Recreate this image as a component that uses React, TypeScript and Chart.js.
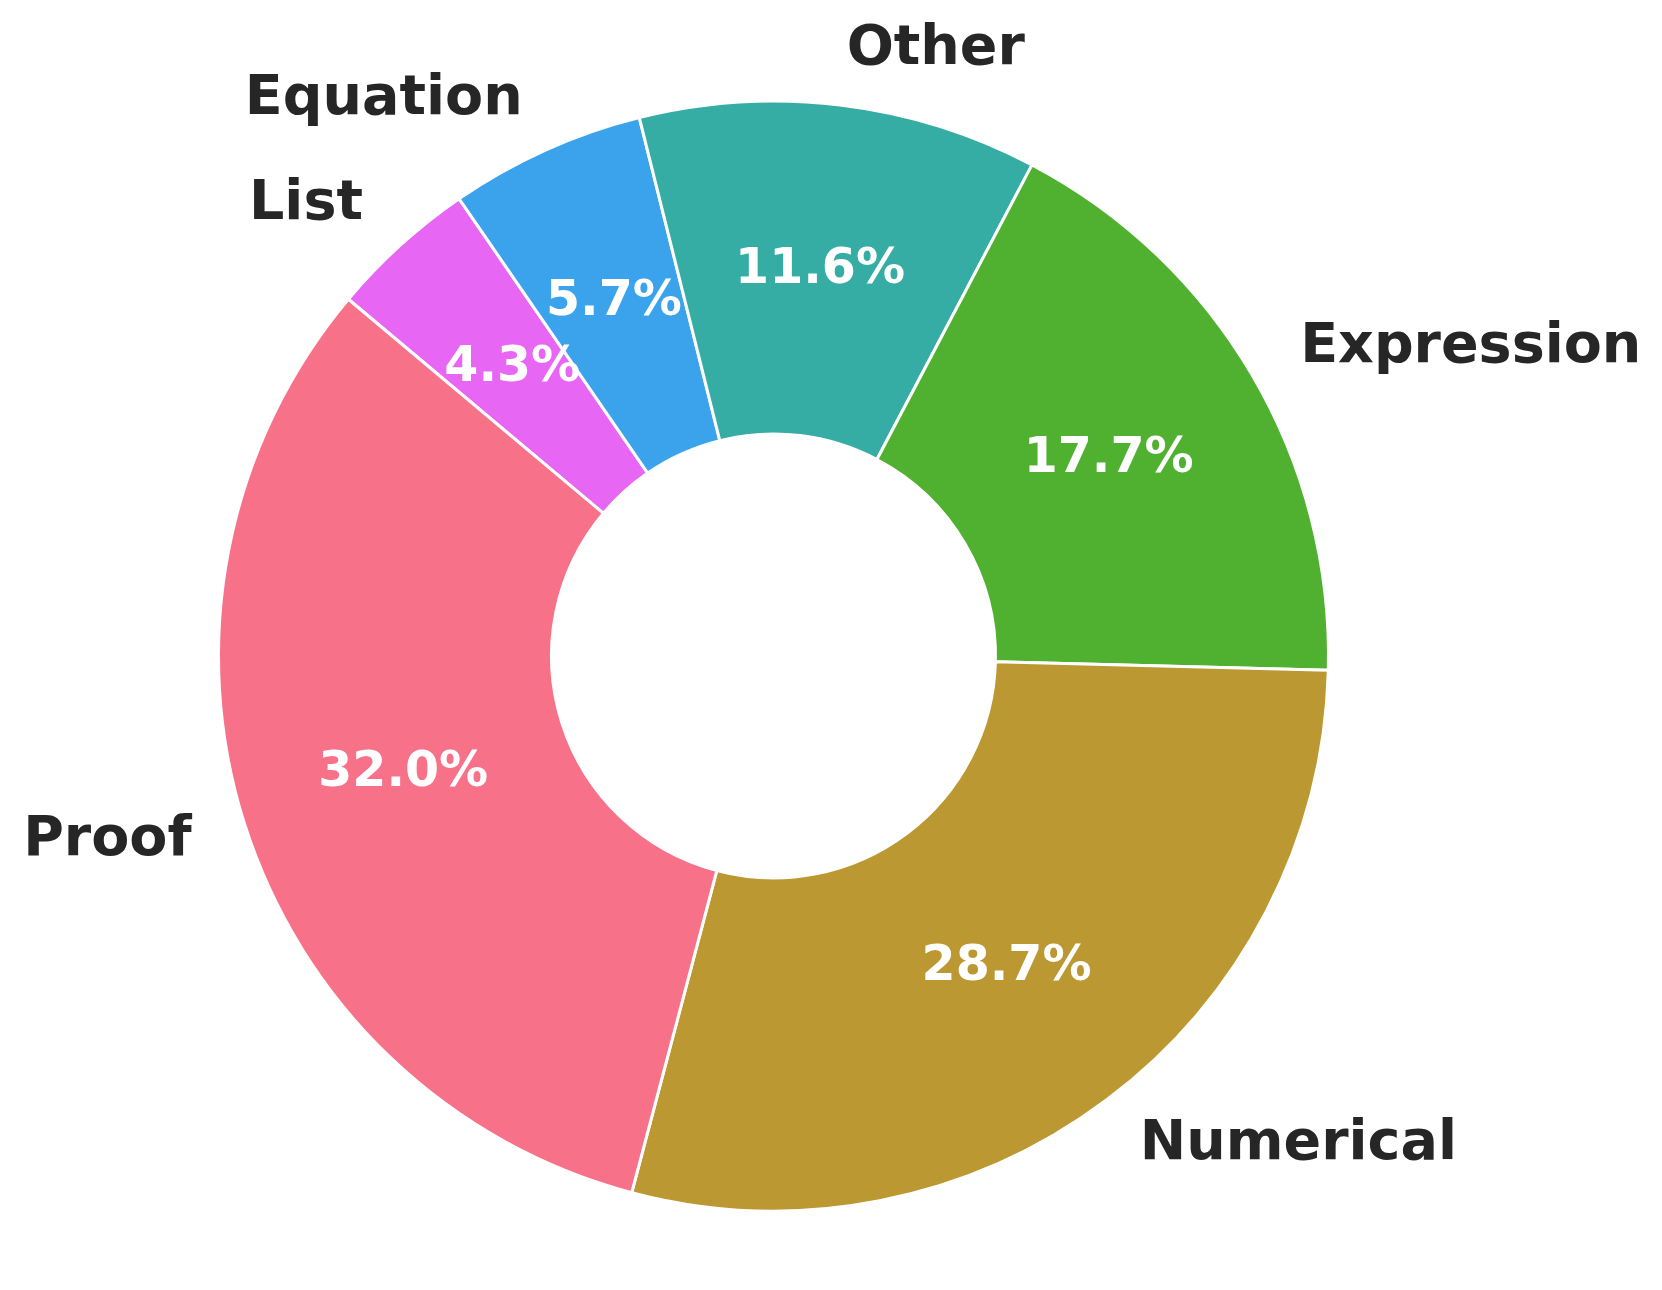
import React, { useEffect, useRef } from "react";
import { Chart, registerables } from "chart.js";

Chart.register(...registerables);

// Data in matplotlib order (counter-clockwise from start angle 140°)
const categories = ["Proof", "Numerical", "Expression", "Other", "Equation", "List"];
const shares = [32.0, 28.7, 17.7, 11.6, 5.7, 4.3];
const colors = ["#f77189", "#bb9832", "#50b131", "#36ada4", "#3ba3ec", "#e866f4"];

const FONT = "'DejaVu Sans', sans-serif";

const labelPlugin = {
  id: "outerLabels",
  afterDatasetsDraw(chart: any) {
    const ctx = chart.ctx;
    const meta = chart.getDatasetMeta(0);
    const labels = chart.data.labels as string[];
    const data = chart.data.datasets[0].data as number[];
    const total = data.reduce((a, b) => a + b, 0);
    ctx.save();
    meta.data.forEach((arc: any, i: number) => {
      const p = arc.getProps(["x", "y", "startAngle", "endAngle", "outerRadius", "innerRadius"], true);
      const mid = (p.startAngle + p.endAngle) / 2;
      const c = Math.cos(mid);
      const s = Math.sin(mid);
      // category label at 1.1 R
      const lx = p.x + c * p.outerRadius * 1.1;
      const ly = p.y + s * p.outerRadius * 1.1;
      ctx.font = `bold 55.5px ${FONT}`;
      ctx.fillStyle = "#262626";
      ctx.textBaseline = "middle";
      ctx.textAlign = c > 0 ? "left" : "right";
      ctx.fillText(labels[i], lx, ly);
      // percentage at 0.7 R
      const px = p.x + c * p.outerRadius * 0.7;
      const py = p.y + s * p.outerRadius * 0.7;
      ctx.font = `bold 49px ${FONT}`;
      ctx.fillStyle = "#ffffff";
      ctx.textAlign = "center";
      ctx.fillText(((data[i] / total) * 100).toFixed(1) + "%", px, py);
    });
    ctx.restore();
  },
};

export default function App() {
  const ref = useRef<HTMLCanvasElement>(null);
  useEffect(() => {
    if (!ref.current) return;
    // Chart.js draws clockwise, matplotlib counter-clockwise: reverse order
    const labs = [...categories].reverse();
    const vals = [...shares].reverse();
    const cols = [...colors].reverse();
    const chart = new Chart(ref.current, {
      type: "doughnut",
      data: {
        labels: labs,
        datasets: [
          {
            data: vals,
            backgroundColor: cols,
            borderColor: "#ffffff",
            borderWidth: 3,
            hoverOffset: 0,
          },
        ],
      },
      options: {
        responsive: false,
        animation: false,
        devicePixelRatio: 1,
        cutout: "40%",
        rotation: -50,
        layout: { padding: { left: 217, top: 99.5, right: 332, bottom: 77.5 } },
        plugins: {
          legend: { display: false },
          tooltip: { enabled: false },
        },
      },
      plugins: [labelPlugin],
    });
    return () => chart.destroy();
  }, []);
  return (
    <div style={{ position: "absolute", left: 0, top: 0, width: 1662, height: 1290, background: "#fff" }}>
      <canvas ref={ref} width={1662} height={1290} style={{ width: 1662, height: 1290 }} />
    </div>
  );
}
